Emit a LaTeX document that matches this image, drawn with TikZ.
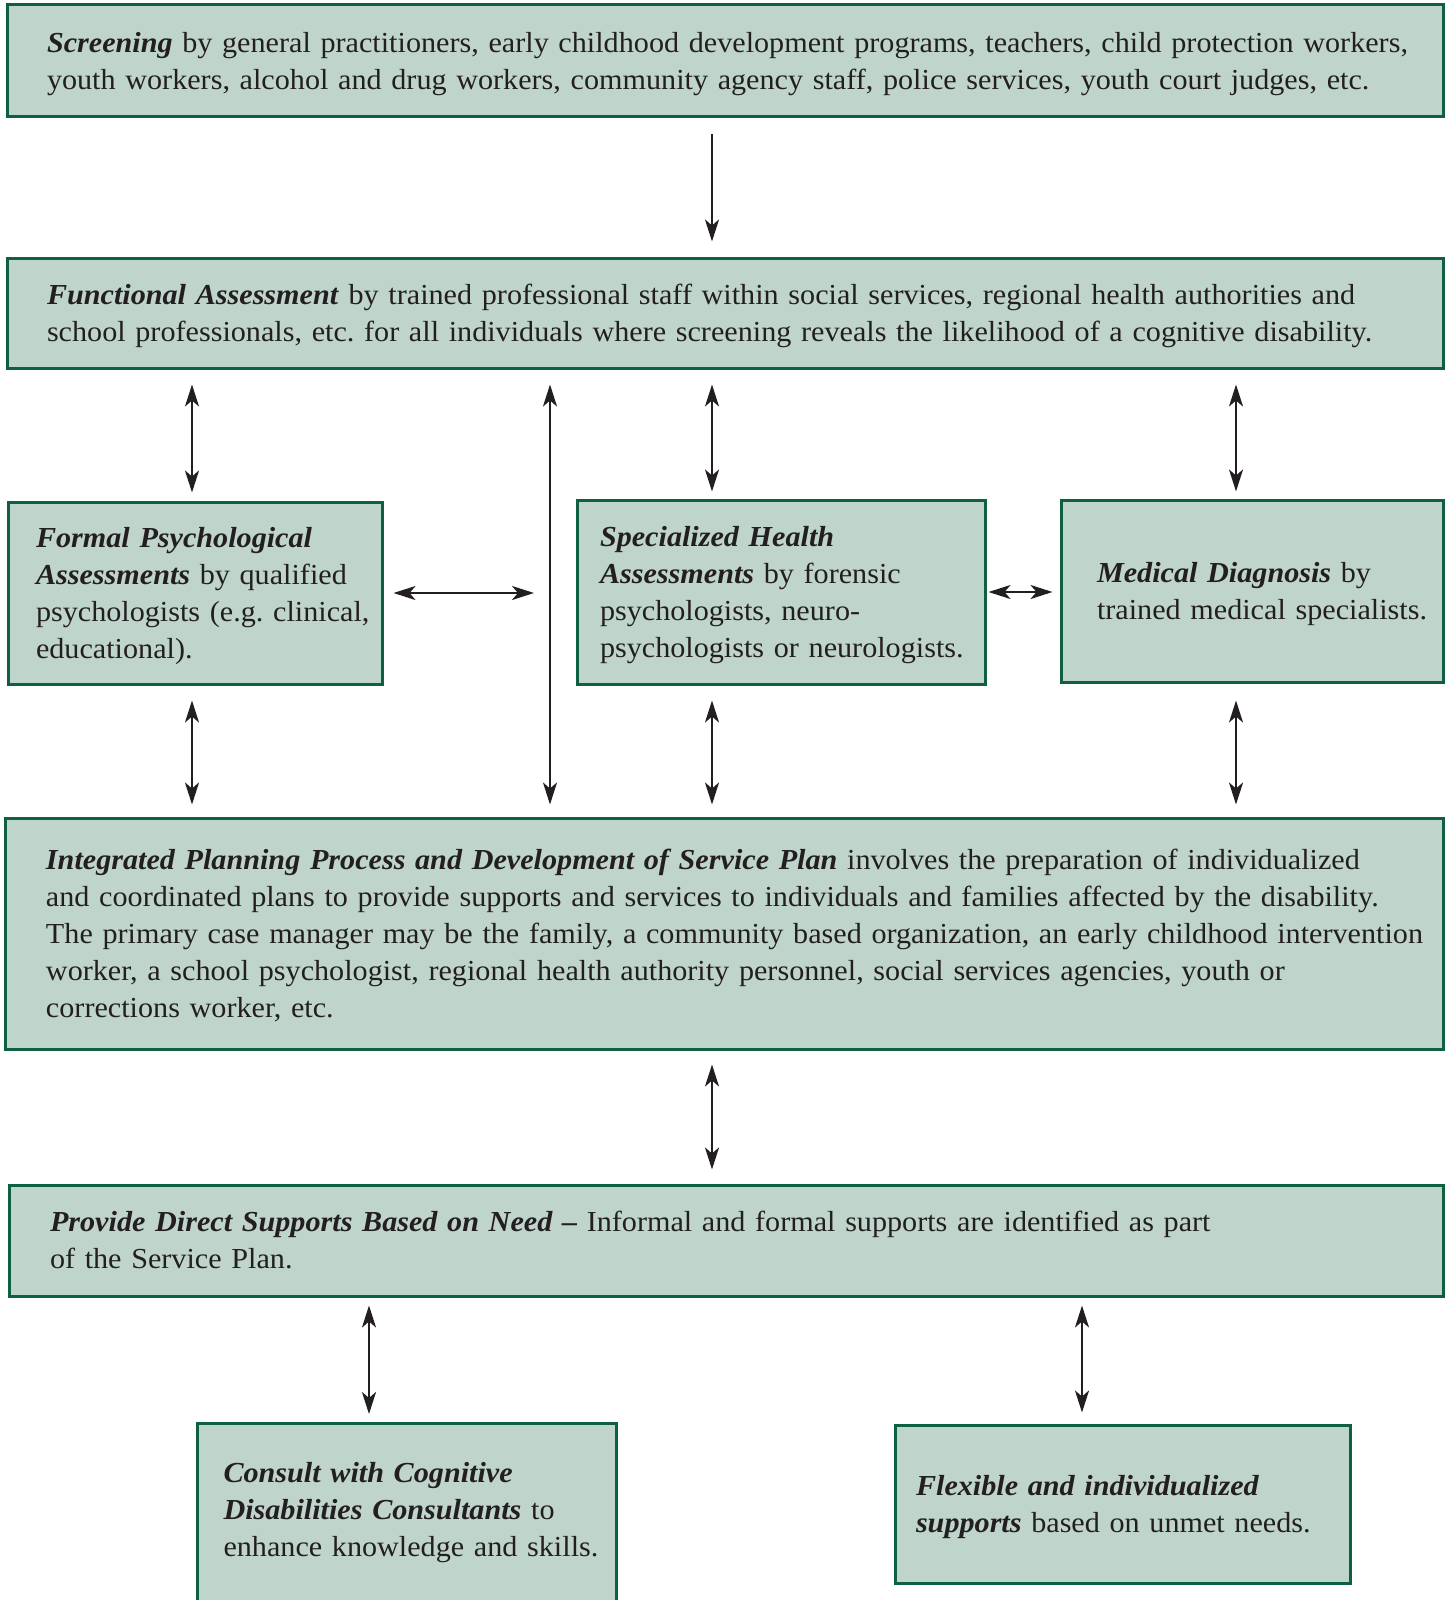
\documentclass[tikz,border=0pt]{standalone}
\usepackage{fontspec}
\setmainfont{Liberation Serif}[FakeStretch=1.04]
\usetikzlibrary{arrows.meta}
\definecolor{boxfill}{HTML}{BFD4CA}
\definecolor{boxline}{HTML}{0E6040}
\definecolor{inkc}{HTML}{231F20}
\frenchspacing
\tikzset{
  flowbox/.style={draw=boxline, fill=boxfill, line width=1.5pt, rectangle,
    align=left, inner ysep=0pt, text=inkc,
    font=\fontsize{14.5}{18.5}\selectfont},
  link/.style={draw=inkc, line width=1.2pt,
    {Stealth[length=11pt,width=7pt,inset=3pt]}-{Stealth[length=11pt,width=7pt,inset=3pt]}},
  onelink/.style={draw=inkc, line width=1.2pt,
    -{Stealth[length=11pt,width=7pt,inset=3pt]}},
}
\newcommand{\hd}[1]{\textbf{\textit{#1}}}
\newcommand{\fln}[1]{\mbox{\rule{0pt}{13pt}#1}}
\newcommand{\mln}[1]{\mbox{#1}}
\newcommand{\lln}[1]{\mbox{#1\rule[-3.1pt]{0pt}{0pt}}}
\begin{document}
\begin{tikzpicture}[x=0.5pt,y=-0.5pt]
\useasboundingbox (0,0) rectangle (1447,1600);
\clip (0,0) rectangle (1447,1600);

% boxes
\node[flowbox, text width=678pt, inner xsep=20pt, minimum height=56pt] (scr) at (725,61)
 {\fln{\hd{Screening} by general practitioners, early childhood development programs, teachers, child protection workers,}\\
  \lln{youth workers, alcohol and drug workers, community agency staff, police services, youth court judges, etc.}};

\node[flowbox, text width=678pt, inner xsep=20pt, minimum height=55pt] (func) at (725,313)
 {\fln{\hd{Functional Assessment} by trained professional staff within social services, regional health authorities and}\\
  \lln{school professionals, etc. for all individuals where screening reveals the likelihood of a cognitive disability.}};

\node[flowbox, text width=159pt, inner xsep=14pt, minimum height=91pt] (formal) at (195,593)
 {\fln{\hd{Formal Psychological}}\\
  \mln{\hd{Assessments} by qualified}\\
  \mln{psychologists (e.g. clinical,}\\
  \lln{educational).}};

\node[flowbox, text width=181pt, inner xsep=11.5pt, minimum height=92pt] (spec) at (781,592)
 {\fln{\hd{Specialized Health}}\\
  \mln{\hd{Assessments} by forensic}\\
  \mln{psychologists, neuro-}\\
  \lln{psychologists or neurologists.}};

\node[flowbox, text width=155pt, inner xsep=18pt, minimum height=91pt] (med) at (1252,591)
 {\fln{\hd{Medical Diagnosis} by}\\
  \lln{trained medical specialists.}};

\node[flowbox, text width=678pt, inner xsep=20.5pt, minimum height=115.5pt] (integ) at (724,933.5)
 {\fln{\hd{Integrated Planning Process and Development of Service Plan} involves the preparation of individualized}\\
  \mln{and coordinated plans to provide supports and services to individuals and families affected by the disability.}\\
  \mln{The primary case manager may be the family, a community based organization, an early childhood intervention}\\
  \mln{worker, a school psychologist, regional health authority personnel, social services agencies, youth or}\\
  \lln{corrections worker, etc.}};

\node[flowbox, text width=676pt, inner xsep=20.5pt, minimum height=55.5pt] (prov) at (726,1240.5)
 {\fln{\hd{Provide Direct Supports Based on Need --} Informal and formal supports are identified as part}\\
  \lln{of the Service Plan.}};

\node[flowbox, minimum width=209.5pt, minimum height=120pt, anchor=north] (consult) at (406.5,1422) {};
\node[flowbox, draw=none, fill=none, anchor=north west, inner xsep=0pt, text width=195pt]
 (consulttxt) at (222,1455)
 {\fln{\hd{Consult with Cognitive}}\\
  \mln{\hd{Disabilities Consultants} to}\\
  \lln{enhance knowledge and skills.}};

\node[flowbox, text width=206.5pt, inner xsep=10.5pt, minimum height=79pt] (flex) at (1122.5,1504)
 {\fln{\hd{Flexible and individualized}}\\
  \lln{\hd{supports} based on unmet needs.}};

% column coordinates
\coordinate (c1) at (192,0);
\coordinate (c2) at (550,0);
\coordinate (c3) at (712,0);
\coordinate (c4) at (1236,0);
\coordinate (c5) at (369,0);
\coordinate (c6) at (1082,0);

% connectors
\draw[onelink, shorten <=8pt, shorten >=7.5pt] (scr.south -| c3) -- (func.north -| c3);

\draw[link, shorten <=7.5pt, shorten >=4pt] (func.south -| c1) -- (formal.north -| c1);
\draw[link, shorten <=7.5pt, shorten >=3.5pt] (func.south -| c3) -- (spec.north -| c3);
\draw[link, shorten <=7.5pt, shorten >=3.5pt] (func.south -| c4) -- (med.north -| c4);
\draw[link, shorten <=7.5pt, shorten >=6pt] (func.south -| c2) -- (integ.north -| c2);

\draw[link, shorten <=5pt, shorten >=8pt] (formal.east) -- (formal.east -| c2);
\draw[link, shorten <=1pt, shorten >=3.5pt] (spec.east) -- (med.west |- spec.east);

\draw[link, shorten <=7.5pt, shorten >=6pt] (formal.south -| c1) -- (integ.north -| c1);
\draw[link, shorten <=7.5pt, shorten >=6pt] (spec.south -| c3) -- (integ.north -| c3);
\draw[link, shorten <=8.5pt, shorten >=6pt] (med.south -| c4) -- (integ.north -| c4);

\draw[link, shorten <=7pt, shorten >=7pt] (integ.south -| c3) -- (prov.north -| c3);

\draw[link, shorten <=4pt, shorten >=4pt] (prov.south -| c5) -- (consult.north -| c5);
\draw[link, shorten <=4pt, shorten >=5.5pt] (prov.south -| c6) -- (flex.north -| c6);
\end{tikzpicture}
\end{document}
